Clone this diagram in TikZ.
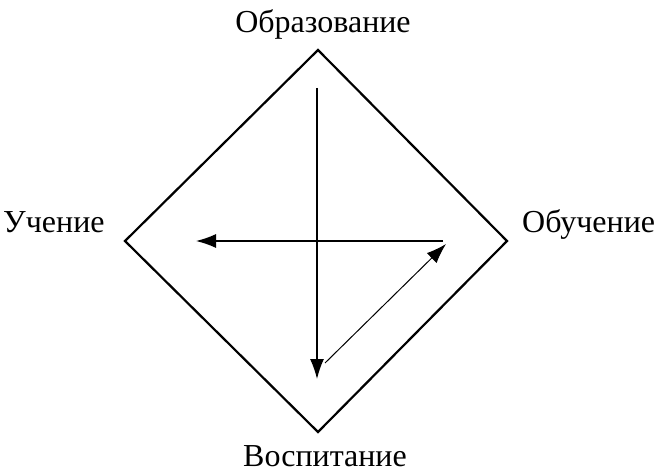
\documentclass[tikz,border=0pt]{standalone}
\usepackage{fontspec}
\setmainfont{Liberation Serif}
\usetikzlibrary{arrows.meta}

\begin{document}
\begin{tikzpicture}[
            x = 1pt, y = -1pt,
            every node/.style={font=\fontsize{32}{32}\selectfont, inner sep=0pt},
            frame/.style={line width = 2.2pt, line join=miter},
            arrow/.style={line width = 1.3pt, -{Latex[length=20pt, width=14pt]}},
            ]
        \useasboundingbox (0,0) rectangle (658,473);

        \coordinate (top) at (318,50);
        \coordinate (right) at (507,241);
        \coordinate (bottom) at (318,432);
        \coordinate (left) at (125,241);
        \draw[frame] (top) -- (right) -- (bottom) -- (left) -- cycle;

        \node[anchor=base] (obr) at (323,33) {Образование};
        \node[anchor=base west] (obu) at (522,232) {Обучение};
        \node[anchor=base] (vos) at (325,466) {Воспитание};
        \node[anchor=base west] (uch) at (3,232) {Учение};

        \coordinate (vstart) at (317,88);
        \coordinate (vend) at (317,379);
        \coordinate (hstart) at (443,241);
        \coordinate (hend) at (196,241);
        \coordinate (dstart) at (325,363);
        \coordinate (dend) at (446,244);
        \draw[arrow] (vstart) -- (vend);
        \draw[arrow] (hstart) -- (hend);
        \draw[arrow, line width = 1pt] (dstart) -- (dend);

    \end{tikzpicture}
\end{document}
